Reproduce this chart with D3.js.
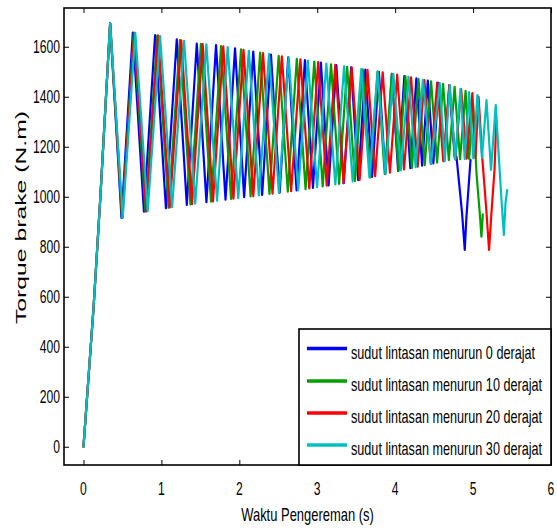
<!DOCTYPE html>
<html><head><meta charset="utf-8">
<script src="https://cdn.jsdelivr.net/npm/d3@7"></script>
<style>html,body{margin:0;padding:0;background:#fff;} svg{display:block;}</style>
</head><body>
<svg id="c" width="557" height="529"></svg>
<script>
const xTicks = [0, 1, 2, 3, 4, 5, 6];
const yTicks = [0, 200, 400, 600, 800, 1000, 1200, 1400, 1600];
const xLabel = "Waktu Pengereman (s)";
const yLabel = "Torque brake (N.m)";
const seriesNames = [
  "sudut lintasan menurun 0 derajat",
  "sudut lintasan menurun 10 derajat",
  "sudut lintasan menurun 20 derajat",
  "sudut lintasan menurun 30 derajat"
];
const seriesColors = ["#0000ff", "#00a000", "#ff0000", "#00bfbf"];

// 0 derajat
const t0 = [0,0.13,0.215,0.342,0.488,0.633,0.776,0.919,1.058,1.197,1.326,1.454,1.578,1.701,1.823,1.945,2.062,2.179,2.293,2.406,2.517,2.628,2.735,2.842,2.945,3.047,3.146,3.245,3.340,3.435,3.526,3.617,3.704,3.791,3.874,3.958,4.038,4.118,4.195,4.272,4.346,4.419,4.490,4.560,4.627,4.695,4.765,4.787,4.859,4.893,4.915,4.967];
const v0 = [0,560,990,1694,915,1657,940,1647,954,1630,967,1613,978,1607,988,1594,998,1581,1007,1569,1016,1558,1025,1547,1035,1537,1045,1527,1054,1518,1066,1509,1079,1500,1091,1492,1103,1483,1114,1474,1124,1465,1133,1456,1142,1447,1155,1160,934,787,920,1147];
// 10 derajat
const t10 = [0,0.13,0.215,0.342,0.495,0.647,0.797,0.947,1.092,1.238,1.373,1.507,1.637,1.766,1.894,2.022,2.145,2.267,2.387,2.505,2.622,2.738,2.850,2.962,3.070,3.177,3.281,3.384,3.484,3.584,3.679,3.774,3.866,3.957,4.044,4.132,4.215,4.299,4.380,4.461,4.538,4.615,4.689,4.763,4.833,4.904,4.95,5.0,5.044,5.086,5.107,5.125];
const v10 = [0,560,990,1694,915,1656,941,1645,956,1627,969,1612,980,1603,991,1590,1001,1577,1011,1564,1020,1552,1030,1541,1041,1530,1051,1520,1063,1510,1077,1501,1091,1492,1104,1482,1115,1472,1126,1462,1136,1452,1146,1440,1150,1424,1151,1373,1093,933,840,930];
// 20 derajat
const t20 = [0,0.13,0.215,0.342,0.498,0.653,0.806,0.958,1.107,1.255,1.393,1.530,1.662,1.794,1.924,2.054,2.179,2.304,2.426,2.546,2.665,2.784,2.898,3.012,3.122,3.231,3.337,3.443,3.544,3.645,3.743,3.840,3.933,4.026,4.114,4.204,4.289,4.375,4.457,4.539,4.618,4.696,4.772,4.847,4.918,4.991,5.03,5.07,5.12,5.17,5.205,5.235,5.275,5.297];
const v20 = [0,560,990,1694,916,1656,941,1645,957,1626,970,1611,981,1602,992,1588,1002,1575,1012,1562,1022,1550,1033,1539,1044,1528,1054,1518,1067,1508,1082,1498,1096,1489,1109,1478,1120,1467,1131,1457,1142,1447,1149,1431,1152,1415,1155,1400,1147,947,787,933,1107,1300];
// 30 derajat
const t30 = [0,0.13,0.215,0.342,0.504,0.665,0.824,0.983,1.137,1.291,1.434,1.577,1.714,1.851,1.986,2.122,2.251,2.381,2.508,2.633,2.756,2.880,2.998,3.117,3.232,3.345,3.455,3.565,3.670,3.775,3.876,3.977,4.074,4.171,4.263,4.356,4.46,4.572,4.636,4.701,4.77,4.838,4.893,4.949,5.003,5.056,5.114,5.172,5.23,5.291,5.33,5.373,5.395,5.416,5.437];
const v30 = [0,560,990,1694,916,1656,942,1643,958,1624,972,1610,984,1599,994,1584,1005,1571,1016,1558,1026,1545,1038,1533,1049,1522,1061,1511,1077,1501,1092,1491,1106,1480,1118,1468,1131,1455,1143,1447,1149,1432,1151,1419,1154,1407,1156,1387,1107,1367,1160,947,847,973,1027];

const seriesT = [t0, t10, t20, t30];
const seriesV = [v0, v10, v20, v30];

const svg = d3.select("#c");
const L = 64, R = 551, T = 8, B = 465;
const x = d3.scaleLinear().domain([-0.25, 6]).range([L, R]);
const y = d3.scaleLinear().domain([-73, 1755]).range([B, T]);
const SX = 0.81, SY = 1.2;
const FONT = "'Liberation Sans', Arial, Helvetica, sans-serif";

svg.append("rect").attr("width", 557).attr("height", 529).attr("fill", "#fff");

svg.append("clipPath").attr("id", "clip").append("rect")
  .attr("x", L).attr("y", T).attr("width", R - L).attr("height", B - T);

const lineGen = d3.line().x(d => x(d[0])).y(d => y(d[1]));
const plot = svg.append("g").attr("clip-path", "url(#clip)");
seriesT.forEach((ts, i) => {
  plot.append("path")
    .datum(d3.zip(ts, seriesV[i]))
    .attr("d", lineGen)
    .attr("fill", "none")
    .attr("stroke", seriesColors[i])
    .attr("stroke-width", 2.2)
    .attr("stroke-linejoin", "round")
    .attr("stroke-linecap", "round");
});

function styleAxis(g) {
  g.select(".domain").remove();
  g.selectAll(".tick line").attr("stroke", "#000").attr("stroke-width", 1);
}
svg.append("g").attr("transform", `translate(0,${B})`)
  .call(d3.axisBottom(x).tickValues(xTicks).tickSizeInner(-5).tickSizeOuter(0).tickFormat(""))
  .call(styleAxis);
svg.append("g").attr("transform", `translate(0,${T})`)
  .call(d3.axisTop(x).tickValues(xTicks).tickSizeInner(-5).tickSizeOuter(0).tickFormat(""))
  .call(styleAxis);
svg.append("g").attr("transform", `translate(${L},0)`)
  .call(d3.axisLeft(y).tickValues(yTicks).tickSizeInner(-5).tickSizeOuter(0).tickFormat(""))
  .call(styleAxis);
svg.append("g").attr("transform", `translate(${R},0)`)
  .call(d3.axisRight(y).tickValues(yTicks).tickSizeInner(-5).tickSizeOuter(0).tickFormat(""))
  .call(styleAxis);

svg.append("rect").attr("x", L).attr("y", T).attr("width", R - L).attr("height", B - T)
  .attr("fill", "none").attr("stroke", "#000").attr("stroke-width", 1.6);

function narrowText(px, py, txt, size, anchor) {
  return svg.append("text")
    .attr("transform", `translate(${px},${py}) scale(${SX},${SY})`)
    .attr("text-anchor", anchor)
    .attr("font-family", FONT)
    .attr("font-size", size)
    .attr("fill", "#000")
    .text(txt);
}

xTicks.forEach(v => narrowText(x(v), 495, String(v), 15, "middle"));
yTicks.forEach(v => narrowText(60, y(v) + 6.5, String(v), 15, "end"));

narrowText((L + R) / 2, 521, xLabel, 16, "middle");

svg.append("text")
  .attr("transform", `translate(26,217.5) rotate(-90)`)
  .attr("text-anchor", "middle")
  .attr("font-family", FONT)
  .attr("font-size", 15.5)
  .attr("textLength", 213)
  .attr("lengthAdjust", "spacingAndGlyphs")
  .attr("fill", "#000")
  .text(yLabel);

// legend
const lg = { x0: 299, y0: 329, x1: R, y1: B };
svg.append("rect").attr("x", lg.x0).attr("y", lg.y0)
  .attr("width", lg.x1 - lg.x0).attr("height", lg.y1 - lg.y0)
  .attr("fill", "#fff").attr("stroke", "#000").attr("stroke-width", 1.6);
const rowY = [348.5, 381, 413, 445];
seriesNames.forEach((name, i) => {
  svg.append("line")
    .attr("x1", 307).attr("x2", 347)
    .attr("y1", rowY[i]).attr("y2", rowY[i])
    .attr("stroke", seriesColors[i]).attr("stroke-width", 3.5);
  narrowText(351, rowY[i] + 10, name, 15.6, "start");
});
</script>
</body></html>
